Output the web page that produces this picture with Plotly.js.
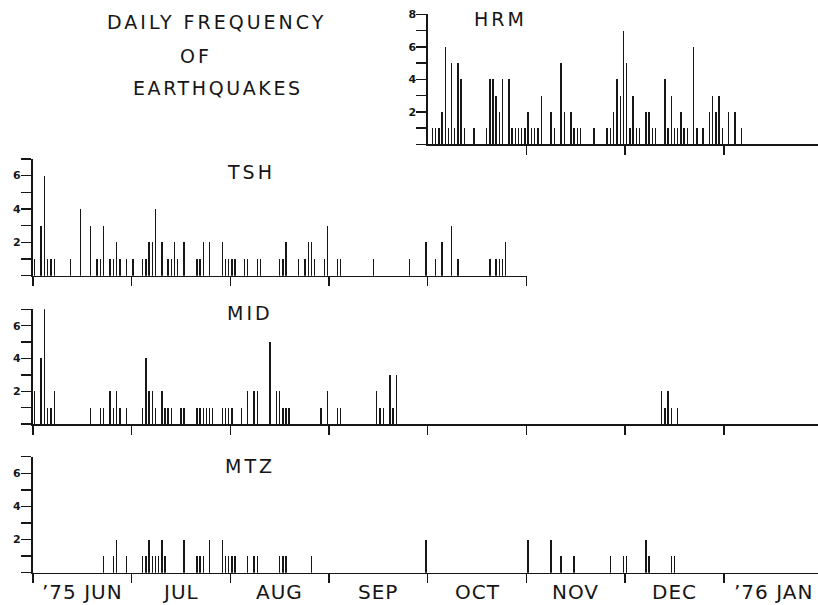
<!DOCTYPE html>
<html>
<head>
<meta charset="utf-8">
<script src="https://cdn.plot.ly/plotly-3.0.1.min.js"></script>
<style>html,body{margin:0;padding:0;background:#fff;}#chart{width:818px;height:605px;}</style>
</head>
<body>
<div id="chart"></div>
<script>
// Day numbers counted from 1 June 1975 (= day 0)
const monthStartDay = [0, 30, 61, 92, 122, 153, 183, 214, 245]; // Jun 1975 ... Feb 1976
const monthLabels = ["\u201975 JUN", "JUL", "AUG", "SEP", "OCT", "NOV", "DEC", "\u201976 JAN"];

const hrmDay = [123,124,125,126,127,128,129,130,131,132,133,136,140,141,142,143,144,145,147,148,149,150,151,152,153,154,155,156,157,160,161,163,164,166,167,168,169,173,177,178,179,180,181,182,183,184,185,186,187,189,190,191,192,195,196,197,198,199,200,201,202,204,205,207,209,210,211,212,213,215,217,219];
const hrmCount = [1,1,1,2,6,1,5,1,5,4,1,1,1,4,4,3,2,4,4,1,1,1,1,1,2,1,1,1,3,2,1,5,2,2,1,1,1,1,1,1,2,4,3,7,5,1,3,1,1,2,2,1,1,4,1,3,1,1,2,1,1,6,1,1,2,3,2,3,1,2,2,1];

const tshDay = [0,2,3,4,5,6,11,14,17,19,20,21,23,24,25,26,28,30,33,34,35,36,37,39,41,42,43,44,46,50,51,52,54,58,59,60,61,62,65,66,69,70,76,77,78,82,84,85,86,87,90,91,94,95,105,116,121,124,126,129,131,141,143,144,145,146];
const tshCount = [1,3,6,1,1,1,1,4,3,1,1,3,1,1,2,1,1,1,1,1,2,2,4,2,1,1,2,1,2,1,1,2,2,2,1,1,1,1,1,1,1,1,1,1,2,1,1,2,2,1,1,3,1,1,1,1,2,1,2,3,1,1,1,1,1,2];

const midDay = [0,2,3,4,5,6,17,20,21,23,24,25,26,28,33,34,35,36,37,39,40,41,42,45,46,50,51,52,53,54,55,58,59,60,61,64,66,68,69,73,75,76,77,78,79,89,91,94,95,106,107,108,110,111,112,194,195,196,197,199];
const midCount = [2,4,7,1,1,2,1,1,1,2,1,2,1,1,1,4,2,2,1,2,1,1,1,1,1,1,1,1,1,1,1,1,1,1,1,1,2,2,2,5,2,2,1,1,1,1,2,1,1,2,1,1,3,1,3,2,1,2,1,1];

const mtzDay = [21,24,25,28,33,34,35,36,37,38,39,40,46,50,51,52,54,58,59,60,61,62,66,68,69,76,77,78,86,121,153,160,163,167,178,182,183,189,190,197,198];
const mtzCount = [1,1,2,1,1,1,2,1,1,1,2,1,2,1,1,1,2,2,1,1,1,1,1,1,1,1,1,1,1,2,2,2,1,1,1,1,1,2,1,1,1];

// convert a day number to the chart's month units (each month has equal length on the drawing)
function toMonthUnits(d) {
  let k = 0;
  while (k < monthStartDay.length - 2 && d >= monthStartDay[k + 1]) k++;
  const len = monthStartDay[k + 1] - monthStartDay[k];
  return k + (d - monthStartDay[k] + 0.5) / len;
}

const W = 818, H = 605;
const x0 = 32.84, pxPerMonth = 98.72;
const pxToM = p => (p - x0) / pxPerMonth;
const ink = '#161616';
const barW = 1.4 / pxPerMonth;

function barTrace(days, counts, xa, ya) {
  return {
    type: 'bar', x: days.map(toMonthUnits), y: counts, xaxis: xa, yaxis: ya,
    width: barW, marker: {color: ink, line: {width: 0}}, hoverinfo: 'skip', showlegend: false
  };
}

const data = [
  barTrace(hrmDay, hrmCount, 'x', 'y'),
  barTrace(tshDay, tshCount, 'x2', 'y2'),
  barTrace(midDay, midCount, 'x3', 'y3'),
  barTrace(mtzDay, mtzCount, 'x4', 'y4')
];

function yAx(top, dom, anchor) {
  const vals = [], txt = [];
  for (let i = 0; i <= top; i++) { vals.push(i); txt.push(i > 0 && i % 2 === 0 ? String(i) : ''); }
  return {
    domain: dom, range: [0, top], anchor: anchor, tickmode: 'array', tickvals: vals, ticktext: txt,
    ticks: 'outside', ticklen: 10, tickwidth: 1.4, tickcolor: ink, showline: true, linecolor: ink, linewidth: 1.6,
    showgrid: false, zeroline: false, fixedrange: true, ticklabelstandoff: -2,
    tickfont: {family: 'DejaVu Sans', size: 11, color: ink, weight: 'bold'}
  };
}
function xAx(pxL, pxR, ticks, anchor) {
  return {
    domain: [pxL / W, pxR / W], range: [pxToM(pxL), pxToM(pxR)], anchor: anchor,
    tickmode: 'array', tickvals: ticks, showticklabels: false,
    ticks: 'outside', ticklen: 9, tickwidth: 1.4, tickcolor: ink,
    showline: true, linecolor: ink, linewidth: 1.6, showgrid: false, zeroline: false, fixedrange: true
  };
}
const yd = (b, t) => [1 - b / H, 1 - t / H];

const ann = [];
function txt(s, px, py, size, sp) {
  ann.push({
    text: '<span style="letter-spacing:' + sp + 'px">' + s + '</span>',
    xref: 'paper', yref: 'paper', x: px / W, y: 1 - py / H, xanchor: 'center', yanchor: 'middle',
    showarrow: false, font: {family: 'DejaVu Sans', size: size, color: ink}
  });
}
txt('DAILY FREQUENCY', 217, 22, 19, 3);
txt('OF', 196, 56, 19, 3);
txt('EARTHQUAKES', 218, 88, 19, 2.6);
txt('HRM', 501, 19, 19, 3);
txt('TSH', 251, 172, 19, 3);
txt('MID', 250, 313, 19, 3);
txt('MTZ', 250, 466, 19, 3);
monthLabels.forEach((m, i) => {
  ann.push({
    text: '<span style="letter-spacing:1px">' + m + '</span>', xref: 'x4', yref: 'paper', x: i + 0.5, y: 1 - 592 / H,
    xanchor: 'center', yanchor: 'middle',
    showarrow: false, font: {family: 'DejaVu Sans', size: 20, color: ink}
  });
});

const layout = {
  width: W, height: H, margin: {l: 0, r: 0, t: 0, b: 0},
  paper_bgcolor: '#fff', plot_bgcolor: 'rgba(0,0,0,0)', bargap: 0, barmode: 'overlay',
  xaxis: xAx(428, 818, [4, 5, 6, 7], 'y'),
  yaxis: yAx(8, yd(144.3, 14.3), 'x'),
  xaxis2: xAx(32.5, 527, [0, 1, 2, 3, 4, 5], 'y2'),
  yaxis2: yAx(7, yd(275.7, 158.8), 'x2'),
  xaxis3: xAx(32.5, 818, [0, 1, 2, 3, 4, 5, 6, 7], 'y3'),
  yaxis3: yAx(7, yd(424, 309.3), 'x3'),
  xaxis4: xAx(32.5, 818, [0, 1, 2, 3, 4, 5, 6, 7], 'y4'),
  yaxis4: yAx(7, yd(572.7, 456.7), 'x4'),
  annotations: ann
};

Plotly.newPlot('chart', data, layout, {displayModeBar: false, staticPlot: true});
</script>
</body>
</html>
